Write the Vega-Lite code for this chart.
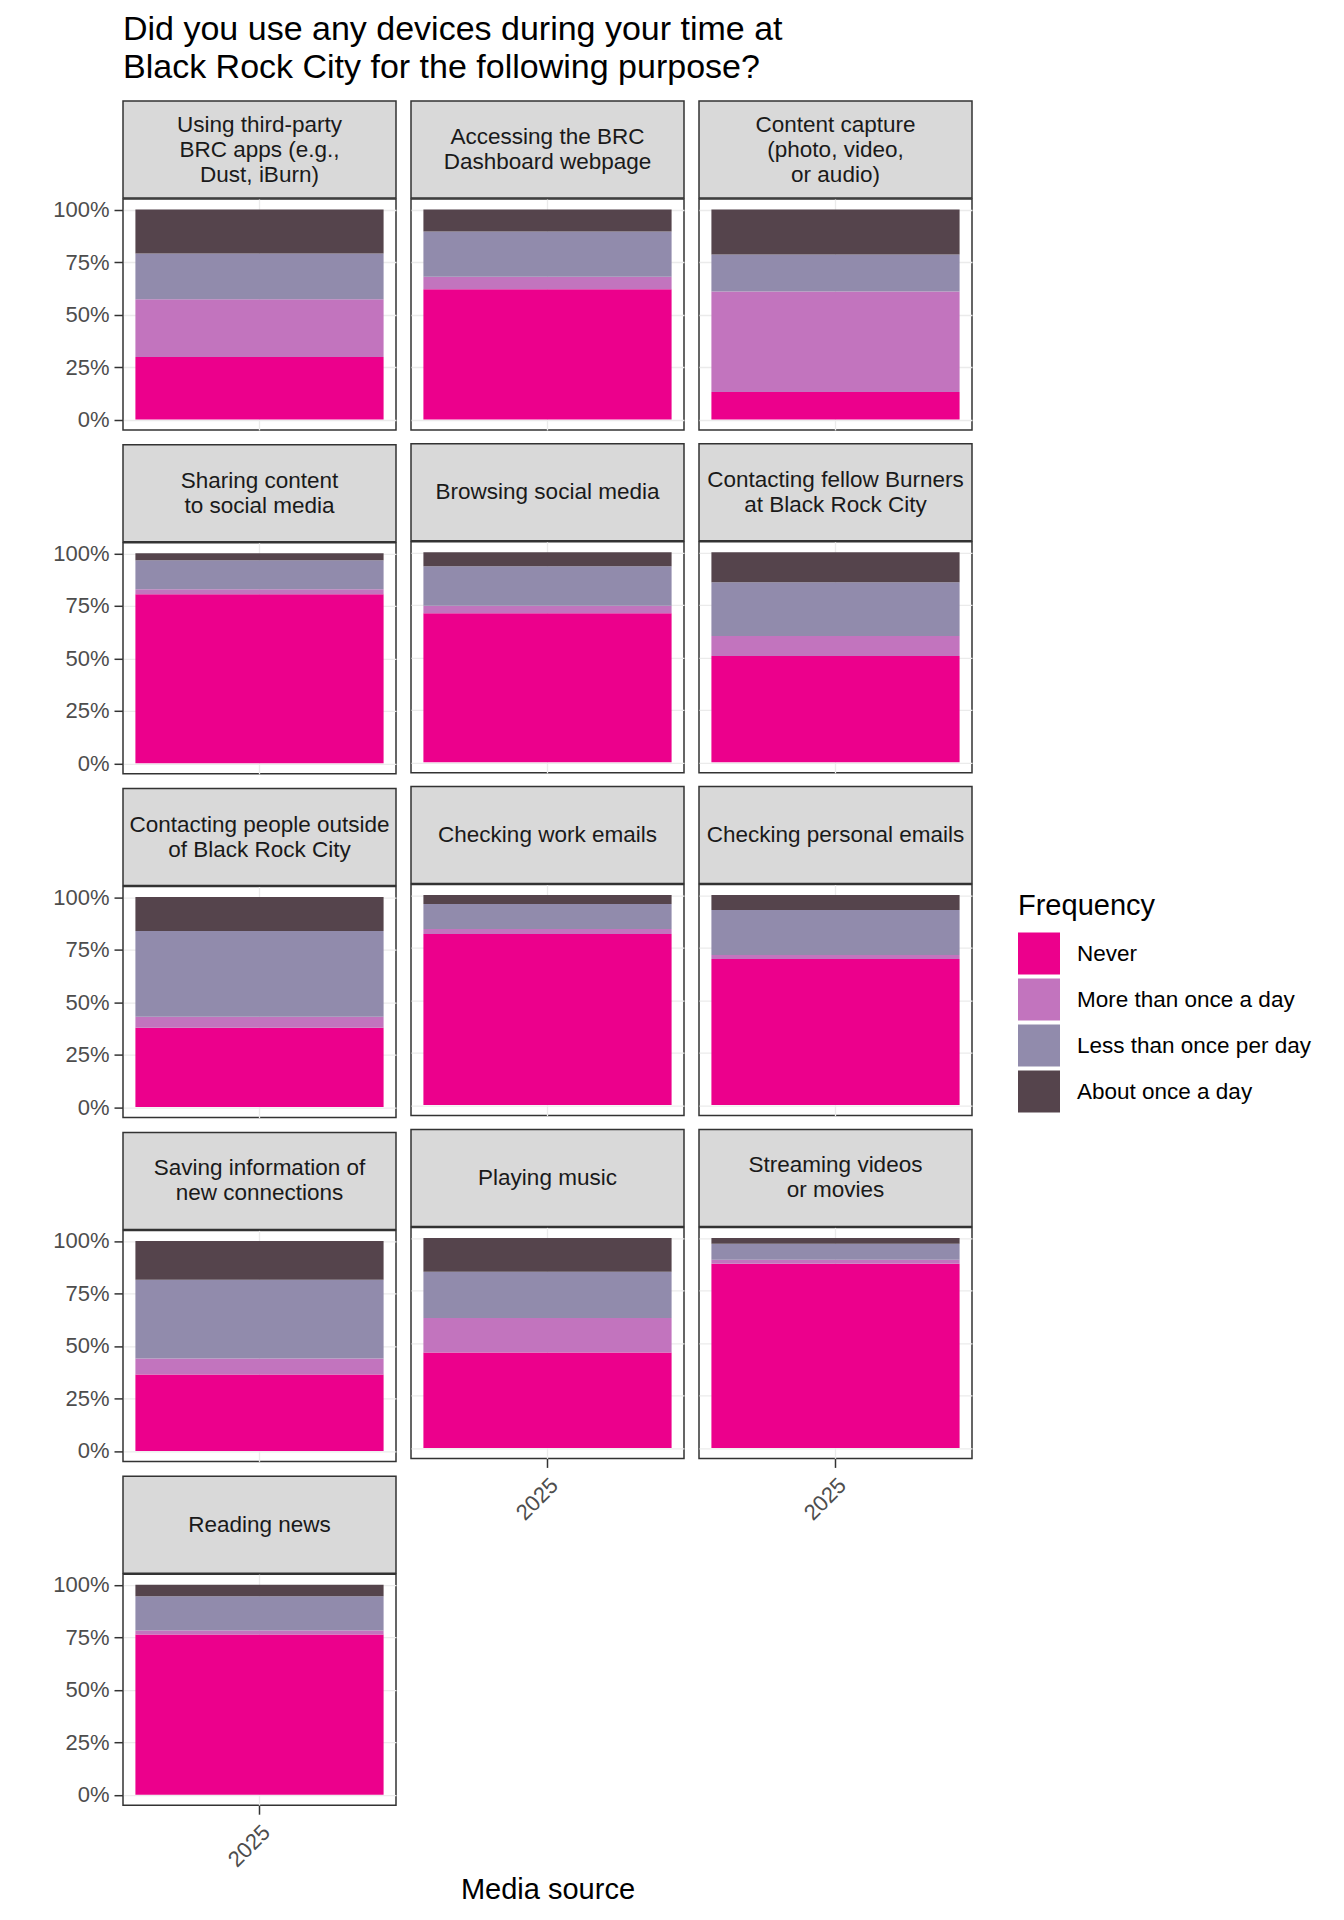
{
  "$schema": "https://vega.github.io/schema/vega-lite/v6.json",
  "background": "white",
  "padding": {"left": 51, "top": 13, "right": 5, "bottom": 5},
  "title": {
    "text": ["Did you use any devices during your time at", "Black Rock City for the following purpose?"],
    "anchor": "start", "frame": "group", "fontSize": 34, "font": "Liberation Sans",
    "fontWeight": "normal", "color": "black", "lineHeight": 38, "offset": 15
  },
  "datasets": {
    "strips": [
      {"panel": 1, "label": "Using third-party\nBRC apps (e.g.,\nDust, iBurn)"},
      {"panel": 2, "label": "Accessing the BRC\nDashboard webpage"},
      {"panel": 3, "label": "Content capture\n(photo, video,\nor audio)"},
      {"panel": 4, "label": "Sharing content\nto social media"},
      {"panel": 5, "label": "Browsing social media"},
      {"panel": 6, "label": "Contacting fellow Burners\nat Black Rock City"},
      {"panel": 7, "label": "Contacting people outside\nof Black Rock City"},
      {"panel": 8, "label": "Checking work emails"},
      {"panel": 9, "label": "Checking personal emails"},
      {"panel": 10, "label": "Saving information of\nnew connections"},
      {"panel": 11, "label": "Playing music"},
      {"panel": 12, "label": "Streaming videos\nor movies"},
      {"panel": 13, "label": "Reading news"}
    ],
    "survey": [
      {"panel": 1, "year": "2025", "frequency": "Never", "order": 1, "share": 0.298},
      {"panel": 1, "year": "2025", "frequency": "More than once a day", "order": 2, "share": 0.275},
      {"panel": 1, "year": "2025", "frequency": "Less than once per day", "order": 3, "share": 0.218},
      {"panel": 1, "year": "2025", "frequency": "About once a day", "order": 4, "share": 0.209},
      {"panel": 2, "year": "2025", "frequency": "Never", "order": 1, "share": 0.620},
      {"panel": 2, "year": "2025", "frequency": "More than once a day", "order": 2, "share": 0.060},
      {"panel": 2, "year": "2025", "frequency": "Less than once per day", "order": 3, "share": 0.215},
      {"panel": 2, "year": "2025", "frequency": "About once a day", "order": 4, "share": 0.105},
      {"panel": 3, "year": "2025", "frequency": "Never", "order": 1, "share": 0.131},
      {"panel": 3, "year": "2025", "frequency": "More than once a day", "order": 2, "share": 0.479},
      {"panel": 3, "year": "2025", "frequency": "Less than once per day", "order": 3, "share": 0.176},
      {"panel": 3, "year": "2025", "frequency": "About once a day", "order": 4, "share": 0.214},
      {"panel": 4, "year": "2025", "frequency": "Never", "order": 1, "share": 0.805},
      {"panel": 4, "year": "2025", "frequency": "More than once a day", "order": 2, "share": 0.024},
      {"panel": 4, "year": "2025", "frequency": "Less than once per day", "order": 3, "share": 0.138},
      {"panel": 4, "year": "2025", "frequency": "About once a day", "order": 4, "share": 0.033},
      {"panel": 5, "year": "2025", "frequency": "Never", "order": 1, "share": 0.710},
      {"panel": 5, "year": "2025", "frequency": "More than once a day", "order": 2, "share": 0.036},
      {"panel": 5, "year": "2025", "frequency": "Less than once per day", "order": 3, "share": 0.187},
      {"panel": 5, "year": "2025", "frequency": "About once a day", "order": 4, "share": 0.067},
      {"panel": 6, "year": "2025", "frequency": "Never", "order": 1, "share": 0.506},
      {"panel": 6, "year": "2025", "frequency": "More than once a day", "order": 2, "share": 0.095},
      {"panel": 6, "year": "2025", "frequency": "Less than once per day", "order": 3, "share": 0.256},
      {"panel": 6, "year": "2025", "frequency": "About once a day", "order": 4, "share": 0.143},
      {"panel": 7, "year": "2025", "frequency": "Never", "order": 1, "share": 0.378},
      {"panel": 7, "year": "2025", "frequency": "More than once a day", "order": 2, "share": 0.052},
      {"panel": 7, "year": "2025", "frequency": "Less than once per day", "order": 3, "share": 0.408},
      {"panel": 7, "year": "2025", "frequency": "About once a day", "order": 4, "share": 0.162},
      {"panel": 8, "year": "2025", "frequency": "Never", "order": 1, "share": 0.815},
      {"panel": 8, "year": "2025", "frequency": "More than once a day", "order": 2, "share": 0.024},
      {"panel": 8, "year": "2025", "frequency": "Less than once per day", "order": 3, "share": 0.119},
      {"panel": 8, "year": "2025", "frequency": "About once a day", "order": 4, "share": 0.042},
      {"panel": 9, "year": "2025", "frequency": "Never", "order": 1, "share": 0.696},
      {"panel": 9, "year": "2025", "frequency": "More than once a day", "order": 2, "share": 0.019},
      {"panel": 9, "year": "2025", "frequency": "Less than once per day", "order": 3, "share": 0.214},
      {"panel": 9, "year": "2025", "frequency": "About once a day", "order": 4, "share": 0.071},
      {"panel": 10, "year": "2025", "frequency": "Never", "order": 1, "share": 0.364},
      {"panel": 10, "year": "2025", "frequency": "More than once a day", "order": 2, "share": 0.076},
      {"panel": 10, "year": "2025", "frequency": "Less than once per day", "order": 3, "share": 0.375},
      {"panel": 10, "year": "2025", "frequency": "About once a day", "order": 4, "share": 0.185},
      {"panel": 11, "year": "2025", "frequency": "Never", "order": 1, "share": 0.454},
      {"panel": 11, "year": "2025", "frequency": "More than once a day", "order": 2, "share": 0.165},
      {"panel": 11, "year": "2025", "frequency": "Less than once per day", "order": 3, "share": 0.220},
      {"panel": 11, "year": "2025", "frequency": "About once a day", "order": 4, "share": 0.161},
      {"panel": 12, "year": "2025", "frequency": "Never", "order": 1, "share": 0.877},
      {"panel": 12, "year": "2025", "frequency": "More than once a day", "order": 2, "share": 0.019},
      {"panel": 12, "year": "2025", "frequency": "Less than once per day", "order": 3, "share": 0.076},
      {"panel": 12, "year": "2025", "frequency": "About once a day", "order": 4, "share": 0.028},
      {"panel": 13, "year": "2025", "frequency": "Never", "order": 1, "share": 0.763},
      {"panel": 13, "year": "2025", "frequency": "More than once a day", "order": 2, "share": 0.019},
      {"panel": 13, "year": "2025", "frequency": "Less than once per day", "order": 3, "share": 0.163},
      {"panel": 13, "year": "2025", "frequency": "About once a day", "order": 4, "share": 0.055}
    ]
  },
  "spacing": 13,
  "hconcat": [
    {"spacing": 11.8, "vconcat": [
      {"spacing": -2, "vconcat": [
        {"data": {"name": "strips"}, "transform": [{"filter": "datum.panel == 1"}], "width": 273, "height": 97, "view": {"fill": "#D9D9D9", "stroke": "#333333", "strokeWidth": 1.5}, "mark": {"type": "text", "lineBreak": "\n", "fontSize": 22.5, "font": "Liberation Sans", "color": "#1A1A1A", "lineHeight": 25, "baseline": "middle", "align": "center", "dy": -25}, "encoding": {"text": {"field": "label", "type": "nominal"}}},
        {"data": {"name": "survey"}, "transform": [{"filter": "datum.panel == 1"}], "width": 273, "height": 231, "mark": "bar", "encoding": {
          "x": {"field": "year", "type": "nominal", "scale": {"paddingInner": 0, "paddingOuter": 0.05}, "axis": {"title": null, "labels": false, "ticks": false, "domain": false, "grid": true, "bandPosition": 0.5}},
          "y": {"field": "share", "type": "quantitative", "stack": "zero", "scale": {"domain": [-0.05, 1.05], "nice": false, "zero": false}, "axis": {"title": null, "values": [0, 0.25, 0.5, 0.75, 1], "format": ".0%", "grid": true, "domain": false}},
          "color": {"field": "frequency", "type": "nominal", "scale": {"domain": ["Never", "More than once a day", "Less than once per day", "About once a day"], "range": ["#EC008C", "#C274BE", "#918BAC", "#55444C"]}, "legend": {"title": "Frequency", "orient": "none", "legendX": 895, "legendY": 790.5}},
          "order": {"field": "order", "type": "quantitative"}}}
      ]},
      {"spacing": -2, "vconcat": [
        {"data": {"name": "strips"}, "transform": [{"filter": "datum.panel == 4"}], "width": 273, "height": 97, "view": {"fill": "#D9D9D9", "stroke": "#333333", "strokeWidth": 1.5}, "mark": {"type": "text", "lineBreak": "\n", "fontSize": 22.5, "font": "Liberation Sans", "color": "#1A1A1A", "lineHeight": 25, "baseline": "middle", "align": "center", "dy": -12.5}, "encoding": {"text": {"field": "label", "type": "nominal"}}},
        {"data": {"name": "survey"}, "transform": [{"filter": "datum.panel == 4"}], "width": 273, "height": 231, "mark": "bar", "encoding": {
          "x": {"field": "year", "type": "nominal", "scale": {"paddingInner": 0, "paddingOuter": 0.05}, "axis": {"title": null, "labels": false, "ticks": false, "domain": false, "grid": true, "bandPosition": 0.5}},
          "y": {"field": "share", "type": "quantitative", "stack": "zero", "scale": {"domain": [-0.05, 1.05], "nice": false, "zero": false}, "axis": {"title": null, "values": [0, 0.25, 0.5, 0.75, 1], "format": ".0%", "grid": true, "domain": false}},
          "color": {"field": "frequency", "type": "nominal", "scale": {"domain": ["Never", "More than once a day", "Less than once per day", "About once a day"], "range": ["#EC008C", "#C274BE", "#918BAC", "#55444C"]}, "legend": {"title": "Frequency", "orient": "none", "legendX": 895, "legendY": 790.5}},
          "order": {"field": "order", "type": "quantitative"}}}
      ]},
      {"spacing": -2, "vconcat": [
        {"data": {"name": "strips"}, "transform": [{"filter": "datum.panel == 7"}], "width": 273, "height": 97, "view": {"fill": "#D9D9D9", "stroke": "#333333", "strokeWidth": 1.5}, "mark": {"type": "text", "lineBreak": "\n", "fontSize": 22.5, "font": "Liberation Sans", "color": "#1A1A1A", "lineHeight": 25, "baseline": "middle", "align": "center", "dy": -12.5}, "encoding": {"text": {"field": "label", "type": "nominal"}}},
        {"data": {"name": "survey"}, "transform": [{"filter": "datum.panel == 7"}], "width": 273, "height": 231, "mark": "bar", "encoding": {
          "x": {"field": "year", "type": "nominal", "scale": {"paddingInner": 0, "paddingOuter": 0.05}, "axis": {"title": null, "labels": false, "ticks": false, "domain": false, "grid": true, "bandPosition": 0.5}},
          "y": {"field": "share", "type": "quantitative", "stack": "zero", "scale": {"domain": [-0.05, 1.05], "nice": false, "zero": false}, "axis": {"title": null, "values": [0, 0.25, 0.5, 0.75, 1], "format": ".0%", "grid": true, "domain": false}},
          "color": {"field": "frequency", "type": "nominal", "scale": {"domain": ["Never", "More than once a day", "Less than once per day", "About once a day"], "range": ["#EC008C", "#C274BE", "#918BAC", "#55444C"]}, "legend": {"title": "Frequency", "orient": "none", "legendX": 895, "legendY": 790.5}},
          "order": {"field": "order", "type": "quantitative"}}}
      ]},
      {"spacing": -2, "vconcat": [
        {"data": {"name": "strips"}, "transform": [{"filter": "datum.panel == 10"}], "width": 273, "height": 97, "view": {"fill": "#D9D9D9", "stroke": "#333333", "strokeWidth": 1.5}, "mark": {"type": "text", "lineBreak": "\n", "fontSize": 22.5, "font": "Liberation Sans", "color": "#1A1A1A", "lineHeight": 25, "baseline": "middle", "align": "center", "dy": -12.5}, "encoding": {"text": {"field": "label", "type": "nominal"}}},
        {"data": {"name": "survey"}, "transform": [{"filter": "datum.panel == 10"}], "width": 273, "height": 231, "mark": "bar", "encoding": {
          "x": {"field": "year", "type": "nominal", "scale": {"paddingInner": 0, "paddingOuter": 0.05}, "axis": {"title": null, "labels": false, "ticks": false, "domain": false, "grid": true, "bandPosition": 0.5}},
          "y": {"field": "share", "type": "quantitative", "stack": "zero", "scale": {"domain": [-0.05, 1.05], "nice": false, "zero": false}, "axis": {"title": null, "values": [0, 0.25, 0.5, 0.75, 1], "format": ".0%", "grid": true, "domain": false}},
          "color": {"field": "frequency", "type": "nominal", "scale": {"domain": ["Never", "More than once a day", "Less than once per day", "About once a day"], "range": ["#EC008C", "#C274BE", "#918BAC", "#55444C"]}, "legend": {"title": "Frequency", "orient": "none", "legendX": 895, "legendY": 790.5}},
          "order": {"field": "order", "type": "quantitative"}}}
      ]},
      {"spacing": -2, "vconcat": [
        {"data": {"name": "strips"}, "transform": [{"filter": "datum.panel == 13"}], "width": 273, "height": 97, "view": {"fill": "#D9D9D9", "stroke": "#333333", "strokeWidth": 1.5}, "mark": {"type": "text", "lineBreak": "\n", "fontSize": 22.5, "font": "Liberation Sans", "color": "#1A1A1A", "lineHeight": 25, "baseline": "middle", "align": "center", "dy": 0}, "encoding": {"text": {"field": "label", "type": "nominal"}}},
        {"data": {"name": "survey"}, "transform": [{"filter": "datum.panel == 13"}], "width": 273, "height": 231, "mark": "bar", "encoding": {
          "x": {"field": "year", "type": "nominal", "scale": {"paddingInner": 0, "paddingOuter": 0.05}, "axis": {"title": null, "labels": true, "ticks": true, "domain": false, "grid": true, "bandPosition": 0.5, "labelAngle": -45, "labelAlign": "right", "labelBaseline": "top", "labelPadding": 7}},
          "y": {"field": "share", "type": "quantitative", "stack": "zero", "scale": {"domain": [-0.05, 1.05], "nice": false, "zero": false}, "axis": {"title": null, "values": [0, 0.25, 0.5, 0.75, 1], "format": ".0%", "grid": true, "domain": false}},
          "color": {"field": "frequency", "type": "nominal", "scale": {"domain": ["Never", "More than once a day", "Less than once per day", "About once a day"], "range": ["#EC008C", "#C274BE", "#918BAC", "#55444C"]}, "legend": {"title": "Frequency", "orient": "none", "legendX": 895, "legendY": 790.5}},
          "order": {"field": "order", "type": "quantitative"}}}
      ]}
    ]},
    {"spacing": 11.8, "vconcat": [
      {"spacing": -2, "vconcat": [
        {"data": {"name": "strips"}, "transform": [{"filter": "datum.panel == 2"}], "width": 273, "height": 97, "view": {"fill": "#D9D9D9", "stroke": "#333333", "strokeWidth": 1.5}, "mark": {"type": "text", "lineBreak": "\n", "fontSize": 22.5, "font": "Liberation Sans", "color": "#1A1A1A", "lineHeight": 25, "baseline": "middle", "align": "center", "dy": -12.5}, "encoding": {"text": {"field": "label", "type": "nominal"}}},
        {"data": {"name": "survey"}, "transform": [{"filter": "datum.panel == 2"}], "width": 273, "height": 231, "mark": "bar", "encoding": {
          "x": {"field": "year", "type": "nominal", "scale": {"paddingInner": 0, "paddingOuter": 0.05}, "axis": {"title": null, "labels": false, "ticks": false, "domain": false, "grid": true, "bandPosition": 0.5}},
          "y": {"field": "share", "type": "quantitative", "stack": "zero", "scale": {"domain": [-0.05, 1.05], "nice": false, "zero": false}, "axis": {"title": null, "values": [0, 0.25, 0.5, 0.75, 1], "labels": false, "ticks": false, "grid": true, "domain": false}},
          "color": {"field": "frequency", "type": "nominal", "scale": {"domain": ["Never", "More than once a day", "Less than once per day", "About once a day"], "range": ["#EC008C", "#C274BE", "#918BAC", "#55444C"]}, "legend": {"title": "Frequency", "orient": "none", "legendX": 895, "legendY": 790.5}},
          "order": {"field": "order", "type": "quantitative"}}}
      ]},
      {"spacing": -2, "vconcat": [
        {"data": {"name": "strips"}, "transform": [{"filter": "datum.panel == 5"}], "width": 273, "height": 97, "view": {"fill": "#D9D9D9", "stroke": "#333333", "strokeWidth": 1.5}, "mark": {"type": "text", "lineBreak": "\n", "fontSize": 22.5, "font": "Liberation Sans", "color": "#1A1A1A", "lineHeight": 25, "baseline": "middle", "align": "center", "dy": 0}, "encoding": {"text": {"field": "label", "type": "nominal"}}},
        {"data": {"name": "survey"}, "transform": [{"filter": "datum.panel == 5"}], "width": 273, "height": 231, "mark": "bar", "encoding": {
          "x": {"field": "year", "type": "nominal", "scale": {"paddingInner": 0, "paddingOuter": 0.05}, "axis": {"title": null, "labels": false, "ticks": false, "domain": false, "grid": true, "bandPosition": 0.5}},
          "y": {"field": "share", "type": "quantitative", "stack": "zero", "scale": {"domain": [-0.05, 1.05], "nice": false, "zero": false}, "axis": {"title": null, "values": [0, 0.25, 0.5, 0.75, 1], "labels": false, "ticks": false, "grid": true, "domain": false}},
          "color": {"field": "frequency", "type": "nominal", "scale": {"domain": ["Never", "More than once a day", "Less than once per day", "About once a day"], "range": ["#EC008C", "#C274BE", "#918BAC", "#55444C"]}, "legend": {"title": "Frequency", "orient": "none", "legendX": 895, "legendY": 790.5}},
          "order": {"field": "order", "type": "quantitative"}}}
      ]},
      {"spacing": -2, "vconcat": [
        {"data": {"name": "strips"}, "transform": [{"filter": "datum.panel == 8"}], "width": 273, "height": 97, "view": {"fill": "#D9D9D9", "stroke": "#333333", "strokeWidth": 1.5}, "mark": {"type": "text", "lineBreak": "\n", "fontSize": 22.5, "font": "Liberation Sans", "color": "#1A1A1A", "lineHeight": 25, "baseline": "middle", "align": "center", "dy": 0}, "encoding": {"text": {"field": "label", "type": "nominal"}}},
        {"data": {"name": "survey"}, "transform": [{"filter": "datum.panel == 8"}], "width": 273, "height": 231, "mark": "bar", "encoding": {
          "x": {"field": "year", "type": "nominal", "scale": {"paddingInner": 0, "paddingOuter": 0.05}, "axis": {"title": null, "labels": false, "ticks": false, "domain": false, "grid": true, "bandPosition": 0.5}},
          "y": {"field": "share", "type": "quantitative", "stack": "zero", "scale": {"domain": [-0.05, 1.05], "nice": false, "zero": false}, "axis": {"title": null, "values": [0, 0.25, 0.5, 0.75, 1], "labels": false, "ticks": false, "grid": true, "domain": false}},
          "color": {"field": "frequency", "type": "nominal", "scale": {"domain": ["Never", "More than once a day", "Less than once per day", "About once a day"], "range": ["#EC008C", "#C274BE", "#918BAC", "#55444C"]}, "legend": {"title": "Frequency", "orient": "none", "legendX": 895, "legendY": 790.5}},
          "order": {"field": "order", "type": "quantitative"}}}
      ]},
      {"spacing": -2, "vconcat": [
        {"data": {"name": "strips"}, "transform": [{"filter": "datum.panel == 11"}], "width": 273, "height": 97, "view": {"fill": "#D9D9D9", "stroke": "#333333", "strokeWidth": 1.5}, "mark": {"type": "text", "lineBreak": "\n", "fontSize": 22.5, "font": "Liberation Sans", "color": "#1A1A1A", "lineHeight": 25, "baseline": "middle", "align": "center", "dy": 0}, "encoding": {"text": {"field": "label", "type": "nominal"}}},
        {"data": {"name": "survey"}, "transform": [{"filter": "datum.panel == 11"}], "width": 273, "height": 231, "mark": "bar", "encoding": {
          "x": {"field": "year", "type": "nominal", "scale": {"paddingInner": 0, "paddingOuter": 0.05}, "axis": {"title": "Media source", "titleFontSize": 29, "titleFontWeight": "normal", "titleColor": "black", "titleY": 440, "titleBaseline": "alphabetic", "labels": true, "ticks": true, "domain": false, "grid": true, "bandPosition": 0.5, "labelAngle": -45, "labelAlign": "right", "labelBaseline": "top", "labelPadding": 7}},
          "y": {"field": "share", "type": "quantitative", "stack": "zero", "scale": {"domain": [-0.05, 1.05], "nice": false, "zero": false}, "axis": {"title": null, "values": [0, 0.25, 0.5, 0.75, 1], "labels": false, "ticks": false, "grid": true, "domain": false}},
          "color": {"field": "frequency", "type": "nominal", "scale": {"domain": ["Never", "More than once a day", "Less than once per day", "About once a day"], "range": ["#EC008C", "#C274BE", "#918BAC", "#55444C"]}, "legend": {"title": "Frequency", "orient": "none", "legendX": 895, "legendY": 790.5}},
          "order": {"field": "order", "type": "quantitative"}}}
      ]}
    ]},
    {"spacing": 11.8, "vconcat": [
      {"spacing": -2, "vconcat": [
        {"data": {"name": "strips"}, "transform": [{"filter": "datum.panel == 3"}], "width": 273, "height": 97, "view": {"fill": "#D9D9D9", "stroke": "#333333", "strokeWidth": 1.5}, "mark": {"type": "text", "lineBreak": "\n", "fontSize": 22.5, "font": "Liberation Sans", "color": "#1A1A1A", "lineHeight": 25, "baseline": "middle", "align": "center", "dy": -25}, "encoding": {"text": {"field": "label", "type": "nominal"}}},
        {"data": {"name": "survey"}, "transform": [{"filter": "datum.panel == 3"}], "width": 273, "height": 231, "mark": "bar", "encoding": {
          "x": {"field": "year", "type": "nominal", "scale": {"paddingInner": 0, "paddingOuter": 0.05}, "axis": {"title": null, "labels": false, "ticks": false, "domain": false, "grid": true, "bandPosition": 0.5}},
          "y": {"field": "share", "type": "quantitative", "stack": "zero", "scale": {"domain": [-0.05, 1.05], "nice": false, "zero": false}, "axis": {"title": null, "values": [0, 0.25, 0.5, 0.75, 1], "labels": false, "ticks": false, "grid": true, "domain": false}},
          "color": {"field": "frequency", "type": "nominal", "scale": {"domain": ["Never", "More than once a day", "Less than once per day", "About once a day"], "range": ["#EC008C", "#C274BE", "#918BAC", "#55444C"]}, "legend": {"title": "Frequency", "orient": "none", "legendX": 895, "legendY": 790.5}},
          "order": {"field": "order", "type": "quantitative"}}}
      ]},
      {"spacing": -2, "vconcat": [
        {"data": {"name": "strips"}, "transform": [{"filter": "datum.panel == 6"}], "width": 273, "height": 97, "view": {"fill": "#D9D9D9", "stroke": "#333333", "strokeWidth": 1.5}, "mark": {"type": "text", "lineBreak": "\n", "fontSize": 22.5, "font": "Liberation Sans", "color": "#1A1A1A", "lineHeight": 25, "baseline": "middle", "align": "center", "dy": -12.5}, "encoding": {"text": {"field": "label", "type": "nominal"}}},
        {"data": {"name": "survey"}, "transform": [{"filter": "datum.panel == 6"}], "width": 273, "height": 231, "mark": "bar", "encoding": {
          "x": {"field": "year", "type": "nominal", "scale": {"paddingInner": 0, "paddingOuter": 0.05}, "axis": {"title": null, "labels": false, "ticks": false, "domain": false, "grid": true, "bandPosition": 0.5}},
          "y": {"field": "share", "type": "quantitative", "stack": "zero", "scale": {"domain": [-0.05, 1.05], "nice": false, "zero": false}, "axis": {"title": null, "values": [0, 0.25, 0.5, 0.75, 1], "labels": false, "ticks": false, "grid": true, "domain": false}},
          "color": {"field": "frequency", "type": "nominal", "scale": {"domain": ["Never", "More than once a day", "Less than once per day", "About once a day"], "range": ["#EC008C", "#C274BE", "#918BAC", "#55444C"]}, "legend": {"title": "Frequency", "orient": "none", "legendX": 895, "legendY": 790.5}},
          "order": {"field": "order", "type": "quantitative"}}}
      ]},
      {"spacing": -2, "vconcat": [
        {"data": {"name": "strips"}, "transform": [{"filter": "datum.panel == 9"}], "width": 273, "height": 97, "view": {"fill": "#D9D9D9", "stroke": "#333333", "strokeWidth": 1.5}, "mark": {"type": "text", "lineBreak": "\n", "fontSize": 22.5, "font": "Liberation Sans", "color": "#1A1A1A", "lineHeight": 25, "baseline": "middle", "align": "center", "dy": 0}, "encoding": {"text": {"field": "label", "type": "nominal"}}},
        {"data": {"name": "survey"}, "transform": [{"filter": "datum.panel == 9"}], "width": 273, "height": 231, "mark": "bar", "encoding": {
          "x": {"field": "year", "type": "nominal", "scale": {"paddingInner": 0, "paddingOuter": 0.05}, "axis": {"title": null, "labels": false, "ticks": false, "domain": false, "grid": true, "bandPosition": 0.5}},
          "y": {"field": "share", "type": "quantitative", "stack": "zero", "scale": {"domain": [-0.05, 1.05], "nice": false, "zero": false}, "axis": {"title": null, "values": [0, 0.25, 0.5, 0.75, 1], "labels": false, "ticks": false, "grid": true, "domain": false}},
          "color": {"field": "frequency", "type": "nominal", "scale": {"domain": ["Never", "More than once a day", "Less than once per day", "About once a day"], "range": ["#EC008C", "#C274BE", "#918BAC", "#55444C"]}, "legend": {"title": "Frequency", "orient": "none", "legendX": 895, "legendY": 790.5}},
          "order": {"field": "order", "type": "quantitative"}}}
      ]},
      {"spacing": -2, "vconcat": [
        {"data": {"name": "strips"}, "transform": [{"filter": "datum.panel == 12"}], "width": 273, "height": 97, "view": {"fill": "#D9D9D9", "stroke": "#333333", "strokeWidth": 1.5}, "mark": {"type": "text", "lineBreak": "\n", "fontSize": 22.5, "font": "Liberation Sans", "color": "#1A1A1A", "lineHeight": 25, "baseline": "middle", "align": "center", "dy": -12.5}, "encoding": {"text": {"field": "label", "type": "nominal"}}},
        {"data": {"name": "survey"}, "transform": [{"filter": "datum.panel == 12"}], "width": 273, "height": 231, "mark": "bar", "encoding": {
          "x": {"field": "year", "type": "nominal", "scale": {"paddingInner": 0, "paddingOuter": 0.05}, "axis": {"title": null, "labels": true, "ticks": true, "domain": false, "grid": true, "bandPosition": 0.5, "labelAngle": -45, "labelAlign": "right", "labelBaseline": "top", "labelPadding": 7}},
          "y": {"field": "share", "type": "quantitative", "stack": "zero", "scale": {"domain": [-0.05, 1.05], "nice": false, "zero": false}, "axis": {"title": null, "values": [0, 0.25, 0.5, 0.75, 1], "labels": false, "ticks": false, "grid": true, "domain": false}},
          "color": {"field": "frequency", "type": "nominal", "scale": {"domain": ["Never", "More than once a day", "Less than once per day", "About once a day"], "range": ["#EC008C", "#C274BE", "#918BAC", "#55444C"]}, "legend": {"title": "Frequency", "orient": "none", "legendX": 895, "legendY": 790.5}},
          "order": {"field": "order", "type": "quantitative"}}}
      ]}
    ]}
  ],
  "config": {
    "font": "Liberation Sans",
    "view": {"stroke": "#333333", "strokeWidth": 1.5},
    "axis": {"labelFont": "Liberation Sans", "labelFontSize": 22, "labelColor": "#4D4D4D", "tickColor": "#333333", "tickWidth": 1.5, "tickSize": 9, "gridColor": "#EBEBEB", "gridWidth": 1.3, "labelPadding": 5, "titleFont": "Liberation Sans"},
    "legend": {"titleFontSize": 29, "titleFontWeight": "normal", "titleColor": "black", "titleFont": "Liberation Sans", "labelFontSize": 22.5, "labelColor": "black", "labelFont": "Liberation Sans", "symbolType": "square", "symbolSize": 1764, "symbolStrokeWidth": 0, "symbolOpacity": 1, "labelOffset": 17, "rowPadding": 4, "titlePadding": 12, "padding": 0, "labelLimit": 400}
  }
}
